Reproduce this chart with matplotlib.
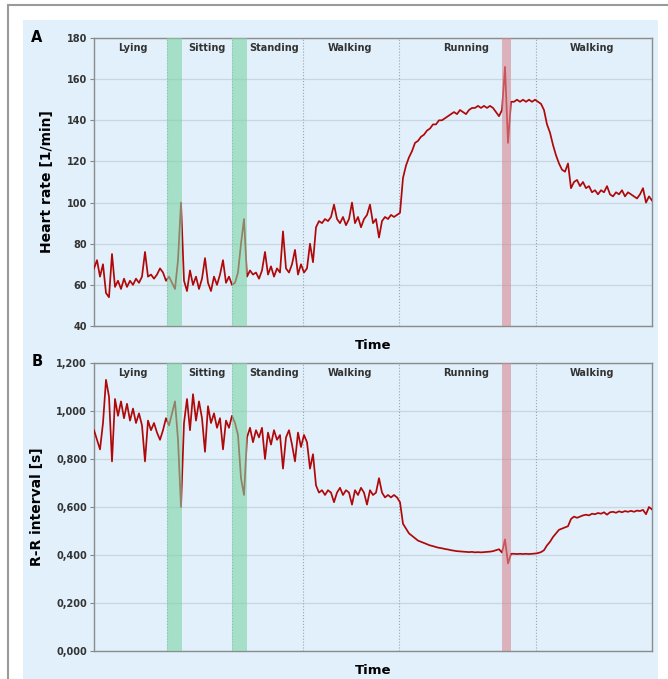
# heart rate and R-R interval recorded across different activities
import matplotlib.pyplot as plt
import numpy as np
from matplotlib.patches import Rectangle
from matplotlib.ticker import FuncFormatter

# heart rate [1/min], one sample per time step
hr = [68, 72, 64, 70, 56, 54, 75, 59, 62, 58,
      63, 59, 62, 60, 63, 61, 64, 76, 64, 65,
      63, 65, 68, 66, 62, 64, 61, 58, 72, 100,
      62, 57, 67, 60, 64, 58, 63, 73, 61, 57,
      64, 60, 65, 72, 61, 64, 60, 61, 66, 80,
      92, 64, 67, 65, 66, 63, 67, 76, 65, 69,
      64, 68, 66, 86, 68, 66, 70, 77, 65, 70,
      66, 68, 80, 71, 88, 91, 90, 92, 91, 93,
      99, 92, 90, 93, 89, 92, 100, 90, 93, 88,
      92, 94, 99, 90, 92, 83, 91, 93, 92, 94,
      93, 94, 95, 112, 118, 122, 125, 129, 130, 132,
      133, 135, 136, 138, 138, 140, 140, 141, 142, 143,
      144, 143, 145, 144, 143, 145, 146, 146, 147, 146,
      147, 146, 147, 146, 144, 142, 145, 166, 129, 149,
      149, 150, 149, 150, 149, 150, 149, 150, 149, 148,
      145, 138, 134, 128, 123, 119, 116, 115, 119, 107,
      110, 111, 108, 110, 107, 108, 105, 106, 104, 106,
      105, 108, 104, 103, 105, 104, 106, 103, 105, 104,
      103, 102, 104, 107, 100, 103, 101]

# R-R interval [s]
rr = [0.92, 0.88, 0.84, 0.95, 1.13, 1.06, 0.79, 1.05, 0.98, 1.04,
      0.97, 1.03, 0.96, 1.01, 0.95, 0.99, 0.94, 0.79, 0.96, 0.92,
      0.95, 0.91, 0.88, 0.92, 0.97, 0.94, 0.99, 1.04, 0.88, 0.60,
      0.95, 1.05, 0.92, 1.07, 0.96, 1.04, 0.97, 0.83, 1.02, 0.95,
      0.99, 0.93, 0.97, 0.84, 0.96, 0.93, 0.98, 0.95, 0.90, 0.72,
      0.65, 0.89, 0.93, 0.87, 0.92, 0.89, 0.93, 0.80, 0.91, 0.86,
      0.92, 0.88, 0.90, 0.76, 0.89, 0.92, 0.86, 0.79, 0.91, 0.85,
      0.90, 0.87, 0.76, 0.82, 0.69, 0.66, 0.67, 0.65, 0.67, 0.66,
      0.62, 0.66, 0.68, 0.65, 0.67, 0.66, 0.61, 0.67, 0.65, 0.68,
      0.66, 0.61, 0.67, 0.65, 0.66, 0.72, 0.66, 0.64, 0.65, 0.64,
      0.65, 0.64, 0.62, 0.53, 0.51, 0.49, 0.48, 0.47, 0.46, 0.455,
      0.45, 0.445, 0.44, 0.437, 0.433, 0.43, 0.428, 0.425, 0.423, 0.42,
      0.418, 0.416, 0.415, 0.414, 0.413, 0.412, 0.413, 0.411, 0.412, 0.411,
      0.412, 0.413, 0.414, 0.416, 0.42, 0.424, 0.41, 0.465, 0.365, 0.405,
      0.405, 0.404, 0.405, 0.404, 0.405, 0.404, 0.405, 0.406, 0.408, 0.412,
      0.42, 0.44, 0.455, 0.475, 0.49, 0.505, 0.51, 0.515, 0.52, 0.55,
      0.56, 0.555, 0.56, 0.565, 0.568, 0.565, 0.572, 0.57, 0.575, 0.572,
      0.578, 0.568, 0.578, 0.58, 0.576, 0.582, 0.578, 0.583, 0.58, 0.584,
      0.58, 0.585, 0.583, 0.588, 0.57, 0.60, 0.59]

# activity names and where they sit on the time axis
attivita = ["Lying", "Sitting", "Standing", "Walking", "Running", "Walking"]
centri_attivita = [13, 37.7, 60, 85.3, 124, 166]
confini = [24.3, 46, 69.7, 101.7, 147.3]
# transition bands (green = posture change, red = speed change)
bande_verdi = [(24.3, 29.3), (46, 51)]
banda_rossa = (136, 139)

t = np.arange(len(hr))

sfondo = "#e1f0fa"
rosso = "#b00808"

fig = plt.figure(figsize=(6.68, 6.79), dpi=100)
fig.patches.append(Rectangle((8 / 668, -0.1), 1.2, 1 - 5 / 679 + 0.1, transform=fig.transFigure,
                             facecolor="white", edgecolor="#9a9a9a", linewidth=1.5, zorder=-2))
fig.patches.append(Rectangle((23 / 668, -0.1), (658 - 23) / 668, 1 - 20 / 679 + 0.1,
                             transform=fig.transFigure, facecolor=sfondo, edgecolor="none", zorder=-1))

ax_a = fig.add_axes([94 / 668, 1 - 326 / 679, 558 / 668, 288 / 679])
ax_b = fig.add_axes([94 / 668, 1 - 651 / 679, 558 / 668, 288 / 679])


def prepara_asse(ax, valori, ymin, ymax, passo, ylabel, lettera, y_lettera, formatter=None):
    ax.set_facecolor(sfondo)
    # bands drawn semi-transparent over the trace, so the line shows through (brownish)
    for a, b in bande_verdi:
        ax.axvspan(a, b, color="#7fd4a7", alpha=0.6, lw=0, zorder=4)
    ax.axvspan(banda_rossa[0], banda_rossa[1], color="#d78a93", alpha=0.6, lw=0, zorder=4)
    for x in confini:
        ax.axvline(x, color="#9aa6ae", lw=0.8, ls=":", zorder=1.5)
    ax.plot(t, valori, color=rosso, lw=1.25, zorder=3)
    ax.set_xlim(0, len(t) - 1)
    ax.set_ylim(ymin, ymax)
    ax.set_yticks(np.arange(ymin, ymax + passo / 2, passo))
    if formatter is not None:
        ax.yaxis.set_major_formatter(formatter)
    ax.yaxis.grid(True, color="#c9d6df", lw=0.9)
    ax.set_axisbelow(True)
    ax.set_xticks([])
    ax.tick_params(axis="y", length=3, width=0.8, color="#888888", labelsize=7, labelcolor="#333333", pad=2)
    for lab in ax.get_yticklabels():
        lab.set_fontweight("bold")
    for s in ax.spines.values():
        s.set_color("#8c8c8c")
        s.set_linewidth(1.0)
    ax.set_ylabel(ylabel, fontsize=10, fontweight="bold", labelpad=9)
    ax.set_xlabel("Time", fontsize=9.5, fontweight="bold", labelpad=9)
    for nome, c in zip(attivita, centri_attivita):
        ax.text(c, ymax - (ymax - ymin) * 0.035, nome, ha="center", va="center",
                fontsize=7, fontweight="bold", color="#333333", zorder=5)
    fig.text(37 / 668, 1 - y_lettera / 679, lettera, fontsize=10.5, fontweight="bold",
             ha="center", va="center")


prepara_asse(ax_a, hr, 40, 180, 20, "Heart rate [1/min]", "A", 38)
# decimal comma on the R-R axis, as in the original (1,200 / 0,800)
prepara_asse(ax_b, rr, 0.0, 1.2, 0.2, "R-R interval [s]", "B", 362,
             FuncFormatter(lambda v, p: f"{v:.3f}".replace(".", ",")))

plt.savefig("out.png", dpi=100)
